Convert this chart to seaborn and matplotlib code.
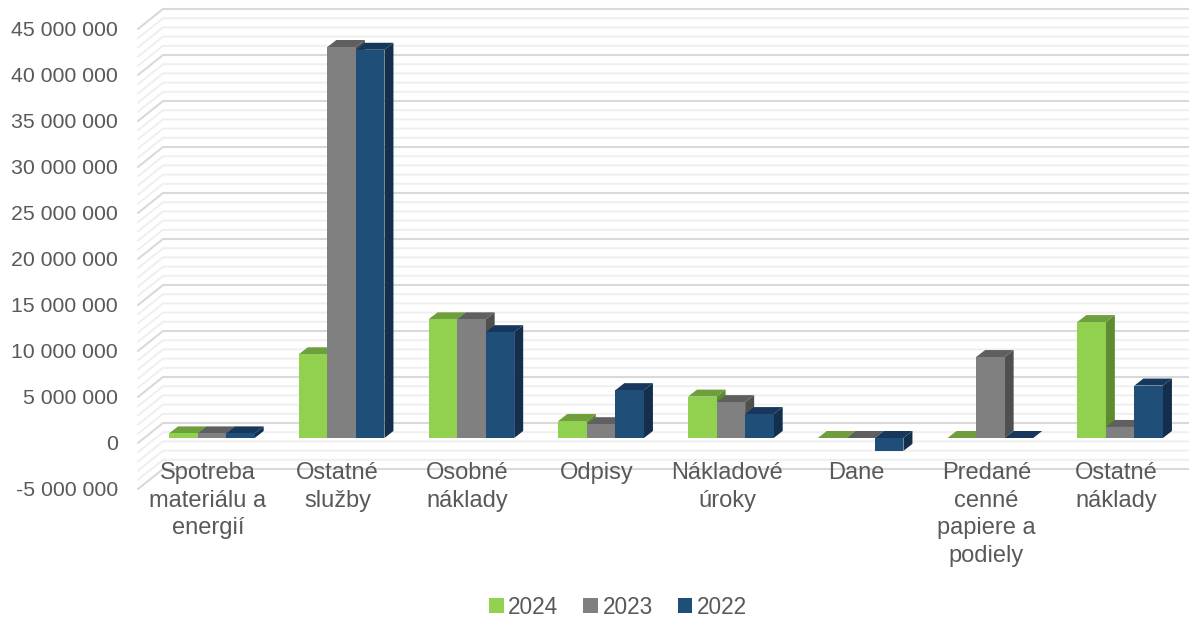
import numpy as np
import pandas as pd
import matplotlib.pyplot as plt
import matplotlib.transforms as mtransforms
from matplotlib.patches import Polygon
from matplotlib.lines import Line2D
import seaborn as sns

categories = ["Spotreba\nmateriálu a\nenergií", "Ostatné\nslužby", "Osobné\nnáklady", "Odpisy",
              "Nákladové\núroky", "Dane", "Predané\ncenné\npapiere a\npodiely", "Ostatné\nnáklady"]
years = ["2024", "2023", "2022"]
values_2024 = [500000, 9100000, 12900000, 1850000, 4500000, 0, 0, 12600000]
values_2023 = [500000, 42500000, 12900000, 1500000, 3900000, 0, 8800000, 1200000]
values_2022 = [500000, 42200000, 11500000, 5200000, 2600000, -1400000, 0, 5700000]

colors = {"2024": "#92D050", "2023": "#808080", "2022": "#1F4E79"}
side_colors = {"2024": "#5E8A30", "2023": "#4F4F4F", "2022": "#132F4D"}
top_colors = {"2024": "#6F9E3C", "2023": "#5F5F5F", "2022": "#17385C"}

df = pd.DataFrame({
    "kategoria": categories * 3,
    "hodnota": values_2024 + values_2023 + values_2022,
    "rok": [y for y in years for _ in categories],
})

W, H = 1189, 619
sns.set_style("white")
plt.rcParams["font.family"] = ["Liberation Sans", "DejaVu Sans"]
text_color = "#595959"

fig = plt.figure(figsize=(W / 100, H / 100), dpi=100)
# axes in pixel geometry: x 147..1185, y 24..484 (45M..-5M)
ax = fig.add_axes([147 / W, 1 - 484 / H, (1185 - 147) / W, (484 - 24) / H])
ax.set_ylim(-5e6, 45e6)

sns.barplot(data=df, x="kategoria", y="hodnota", hue="rok", hue_order=years,
            palette=colors, width=0.66, saturation=1, linewidth=0, ax=ax,
            legend=True, zorder=3)
ax.set_xlim(-0.5, len(categories) - 0.5)
ax.set_ylim(-5e6, 45e6)

# back wall gridlines (Excel 3D look)
fig.canvas.draw()
to_px = ax.transData.transform
wall_dx, wall_dy = 25, 20
left_px = to_px((-0.5, 0))[0] - 9
for v in np.arange(-5e6, 45e6 + 1, 1e6):
    y_lab = to_px((0, v))[1] - 5
    major = int(round(v)) % 5000000 == 0
    col = "#D9D9D9" if major else "#EFEFEF"
    lw = 1.5 if major else 1.4
    ax.add_line(Line2D([left_px, left_px + wall_dx, W], [y_lab, y_lab + wall_dy, y_lab + wall_dy],
                       transform=mtransforms.IdentityTransform(), color=col, lw=lw,
                       clip_on=False, zorder=1.5 if major else 1))

# 3D faces of bars
px_cat = to_px((1, 0))[0] - to_px((0, 0))[0]
px_unit = to_px((0, 1e6))[1] - to_px((0, 0))[1]
dx = 9 / px_cat
dy = 7 / px_unit * 1e6
for h, (yr, cont) in enumerate(zip(years, ax.containers)):
    for bar in cont:
        x0 = bar.get_x()
        x1 = x0 + bar.get_width()
        yb = min(bar.get_y(), bar.get_y() + bar.get_height())
        yt = max(bar.get_y(), bar.get_y() + bar.get_height())
        bar.set_zorder(3 + h + 0.5)
        side = Polygon([(x1, yb), (x1 + dx, yb + dy), (x1 + dx, yt + dy), (x1, yt)],
                       closed=True, facecolor=side_colors[yr], edgecolor="none", zorder=3 + h)
        top = Polygon([(x0, yt), (x0 + dx, yt + dy), (x1 + dx, yt + dy), (x1, yt)],
                      closed=True, facecolor=top_colors[yr], edgecolor="none", zorder=3 + h)
        ax.add_patch(side)
        ax.add_patch(top)

for s in ax.spines.values():
    s.set_visible(False)
ax.set_xlabel("")
ax.set_ylabel("")
ax.set_yticks(np.arange(-5e6, 45e6 + 1, 5e6))
ax.set_yticklabels([f"{v:,.0f}".replace(",", " ") for v in np.arange(-5e6, 45e6 + 1, 5e6)])
ax.tick_params(axis="y", length=0, pad=21, labelsize=15.3, labelcolor=text_color)
shift = mtransforms.ScaledTranslation(0, -5 / 100, fig.dpi_scale_trans)
for lab in ax.get_yticklabels():
    lab.set_transform(lab.get_transform() + shift)

ax.set_xticks([])
for i, c in enumerate(categories):
    xp = to_px((i, 0))[0] - 4
    fig.text(xp / W, (H - 462) / H, c, ha="center", va="top", fontsize=17,
             color=text_color, linespacing=1.33)

handles, labels = ax.get_legend_handles_labels()
ax.legend_.remove()
fig.legend(handles, labels, loc="center", bbox_to_anchor=(618 / W, 1 - 607 / H), ncol=3,
           frameon=False, fontsize=16.3, handlelength=0.65, handleheight=0.65,
           handletextpad=0.2, columnspacing=1.1, labelcolor=text_color)

fig.savefig("out.png", dpi=100)
